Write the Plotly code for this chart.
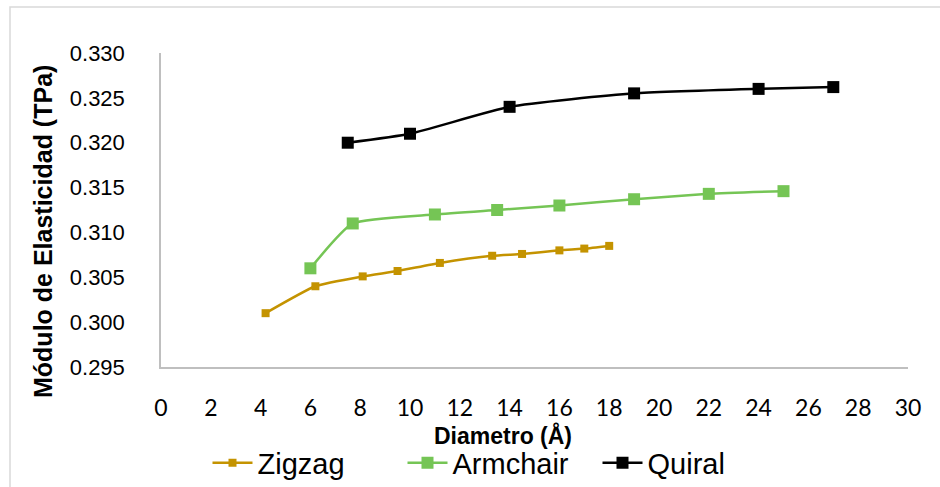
import plotly.graph_objects as go

# Diameter (Å) and Young's modulus (TPa) for each nanotube chirality
zigzag_d = [4.2, 6.2, 8.1, 9.5, 11.2, 13.3, 14.5, 16.0, 17.0, 18.0]
zigzag_e = [0.3010, 0.3040, 0.3051, 0.3057, 0.3066, 0.3074, 0.3076, 0.3080, 0.3082, 0.3085]

armchair_d = [6.0, 7.7, 11.0, 13.5, 16.0, 19.0, 22.0, 25.0]
armchair_e = [0.3060, 0.3110, 0.3120, 0.3125, 0.3130, 0.3137, 0.3143, 0.3146]

quiral_d = [7.5, 10.0, 14.0, 19.0, 24.0, 27.0]
quiral_e = [0.3200, 0.3210, 0.3240, 0.3255, 0.3260, 0.3262]

y_ticks = [0.295, 0.300, 0.305, 0.310, 0.315, 0.320, 0.325, 0.330]
x_ticks = list(range(0, 31, 2))

W, H = 940, 487
L, R, T, B = 161, 32, 53, 120
PW, PH = W - L - R, H - T - B


def px(x):
    return (x - L) / PW


def py(y):
    return (H - B - y) / PH


fig = go.Figure()
series = [
    ("Zigzag", zigzag_d, zigzag_e, "#C49300", 8, 2.5),
    ("Armchair", armchair_d, armchair_e, "#75C555", 12, 2.5),
    ("Quiral", quiral_d, quiral_e, "#000000", 12, 2.5),
]
for name, xs, ys, col, msize, lw in series:
    fig.add_trace(go.Scatter(
        x=xs, y=ys, name=name, mode="lines+markers",
        line=dict(color=col, width=lw, shape="spline", smoothing=0.5),
        marker=dict(symbol="square", size=msize, color=col),
    ))

fig.update_layout(
    width=W, height=H,
    margin=dict(l=L, r=R, t=T, b=B, autoexpand=False),
    paper_bgcolor="white", plot_bgcolor="white",
    showlegend=True,
    legend=dict(
        orientation="h", x=px(500), xanchor="center", y=py(463), yanchor="middle",
        font=dict(family="Liberation Sans, Arial, sans-serif", size=29, color="black"),
        itemwidth=40, tracegroupgap=0, entrywidth=140, entrywidthmode="pixels",
    ),
    xaxis=dict(
        range=[0, 30], tickvals=x_ticks, ticktext=[str(v) for v in x_ticks],
        showgrid=False, zeroline=False, showline=True, linecolor="#BFBFBF", linewidth=1.5,
        ticks="", ticklabelstandoff=20,
        tickfont=dict(family="Lato, sans-serif", size=23, color="black"),
    ),
    yaxis=dict(
        range=[0.295, 0.330], tickvals=y_ticks, tickformat=".3f",
        showgrid=False, zeroline=False, showline=True, linecolor="#BFBFBF", linewidth=1.5,
        ticks="", ticklabelstandoff=30,
        tickfont=dict(family="Liberation Sans, Arial, sans-serif", size=22, color="black"),
    ),
    annotations=[
        dict(text="<b>Diametro (Å)</b>", xref="paper", yref="paper",
             x=px(503), y=py(435), xanchor="center", yanchor="middle", showarrow=False,
             font=dict(family="Liberation Sans, Arial, sans-serif", size=23, color="black")),
        dict(text="<b>Módulo de Elasticidad (TPa)</b>", xref="paper", yref="paper",
             x=px(43), y=py(232), xanchor="center", yanchor="middle", showarrow=False,
             textangle=-90,
             font=dict(family="Liberation Sans, Arial, sans-serif", size=25, color="black")),
    ],
    shapes=[
        dict(type="rect", xref="paper", yref="paper",
             x0=px(10), x1=px(950), y0=py(497), y1=py(7),
             line=dict(color="#D9D9D9", width=1.5), fillcolor="rgba(0,0,0,0)", layer="below"),
    ],
)

fig.write_html("out.html")
